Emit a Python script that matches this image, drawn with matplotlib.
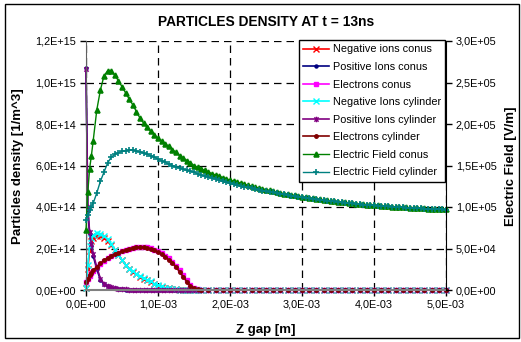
import numpy as np
import matplotlib
matplotlib.use("Agg")
import matplotlib.pyplot as plt
from matplotlib.path import Path
from matplotlib.patches import Rectangle

plt.rcParams['font.family'] = ['Liberation Sans', 'DejaVu Sans']

# gap position [mm] for the particle densities
X_DENS = [0, 0.025, 0.05, 0.075, 0.1,
          0.15, 0.2, 0.25, 0.3, 0.35, 0.4, 0.45, 0.5, 0.55, 0.6,
          0.65, 0.7, 0.75, 0.8, 0.85, 0.9, 0.95, 1.0, 1.05, 1.1,
          1.15, 1.2, 1.25, 1.3, 1.35, 1.4, 1.45, 1.5, 1.55, 1.6,
          1.7, 1.8, 1.9, 2.0, 2.1, 2.2, 2.3, 2.4, 2.5, 2.6,
          2.7, 2.8, 2.9, 3.0, 3.1, 3.2, 3.3, 3.4, 3.5, 3.6,
          3.7, 3.8, 3.9, 4.0, 4.1, 4.2, 4.3, 4.4, 4.5, 4.6,
          4.7, 4.8, 4.9, 5.0]

# gap position [mm] for the electric field
X_FIELD = [0, 0.025, 0.05, 0.075, 0.1,
           0.15, 0.2, 0.25, 0.3, 0.35, 0.4, 0.45, 0.5, 0.55, 0.6,
           0.65, 0.7, 0.75, 0.8, 0.85, 0.9, 0.95, 1.0, 1.05, 1.1,
           1.15, 1.2, 1.25, 1.3, 1.35, 1.4, 1.45, 1.5, 1.55, 1.6,
           1.65, 1.7, 1.75, 1.8, 1.85, 1.9, 1.95, 2.0, 2.05, 2.1,
           2.15, 2.2, 2.25, 2.3, 2.35, 2.4, 2.45, 2.5, 2.55, 2.6,
           2.65, 2.7, 2.75, 2.8, 2.85, 2.9, 2.95, 3.0, 3.05, 3.1,
           3.15, 3.2, 3.25, 3.3, 3.35, 3.4, 3.45, 3.5, 3.55, 3.6,
           3.65, 3.7, 3.75, 3.8, 3.85, 3.9, 3.95, 4.0, 4.05, 4.1,
           4.15, 4.2, 4.25, 4.3, 4.35, 4.4, 4.45, 4.5, 4.55, 4.6,
           4.65, 4.7, 4.75, 4.8, 4.85, 4.9, 4.95, 5.0]

# densities [1e14 1/m^3]
NEG_CONUS = [0.08, 1.0, 1.9, 2.35, 2.5,
             2.6, 2.6, 2.5, 2.38, 2.15, 1.92, 1.68, 1.44, 1.2, 1.02,
             0.88, 0.76, 0.64, 0.54, 0.47, 0.39, 0.29, 0.21, 0.16, 0.11,
             0.075, 0.045, 0.028, 0.018, 0.011, 0.006, 0.003, 0.002, 0.001, 0,
             0, 0, 0, 0, 0, 0, 0, 0, 0, 0,
             0, 0, 0, 0, 0, 0, 0, 0, 0, 0,
             0, 0, 0, 0, 0, 0, 0, 0, 0, 0,
             0, 0, 0, 0]
POS_CONUS = [10.7, 3.8, 2.7, 2.1, 1.65,
             1.0, 0.5, 0.28, 0.17, 0.12, 0.08, 0.05, 0.035, 0.02, 0.012,
             0.008, 0.005, 0.004, 0.002, 0.001, 0, 0, 0, 0, 0,
             0, 0, 0, 0, 0, 0, 0, 0, 0, 0,
             0, 0, 0, 0, 0, 0, 0, 0, 0, 0,
             0, 0, 0, 0, 0, 0, 0, 0, 0, 0,
             0, 0, 0, 0, 0, 0, 0, 0, 0, 0,
             0, 0, 0, 0]
ELEC_CONUS = [0.38, 0.53, 0.68, 0.81, 0.93,
              1.1, 1.26, 1.41, 1.53, 1.64, 1.72, 1.8, 1.87, 1.93, 1.98,
              2.03, 2.06, 2.08, 2.07, 2.05, 2.01, 1.95, 1.87, 1.77, 1.66,
              1.52, 1.37, 1.18, 0.96, 0.72, 0.47, 0.26, 0.11, 0.04, 0.01,
              0, 0, 0, 0, 0, 0, 0, 0, 0, 0,
              0, 0, 0, 0, 0, 0, 0, 0, 0, 0,
              0, 0, 0, 0, 0, 0, 0, 0, 0, 0,
              0, 0, 0, 0]
NEG_CYL = [0.1, 1.2, 2.1, 2.5, 2.65,
           2.73, 2.72, 2.6, 2.45, 2.2, 1.95, 1.7, 1.45, 1.2, 1.02,
           0.9, 0.78, 0.66, 0.56, 0.5, 0.42, 0.3, 0.22, 0.17, 0.12,
           0.08, 0.05, 0.03, 0.02, 0.012, 0.007, 0.004, 0.002, 0.001, 0,
           0, 0, 0, 0, 0, 0, 0, 0, 0, 0,
           0, 0, 0, 0, 0, 0, 0, 0, 0, 0,
           0, 0, 0, 0, 0, 0, 0, 0, 0, 0,
           0, 0, 0, 0]
POS_CYL = [10.65, 4.0, 2.8, 2.2, 1.75,
           1.1, 0.55, 0.3, 0.19, 0.14, 0.09, 0.06, 0.04, 0.025, 0.015,
           0.01, 0.007, 0.005, 0.003, 0.002, 0.001, 0, 0, 0, 0,
           0, 0, 0, 0, 0, 0, 0, 0, 0, 0,
           0, 0, 0, 0, 0, 0, 0, 0, 0, 0,
           0, 0, 0, 0, 0, 0, 0, 0, 0, 0,
           0, 0, 0, 0, 0, 0, 0, 0, 0, 0,
           0, 0, 0, 0]
ELEC_CYL = [0.4, 0.55, 0.7, 0.83, 0.95,
            1.12, 1.28, 1.43, 1.55, 1.65, 1.73, 1.8, 1.87, 1.93, 1.98,
            2.02, 2.05, 2.06, 2.05, 2.02, 1.98, 1.91, 1.82, 1.72, 1.6,
            1.45, 1.3, 1.1, 0.88, 0.64, 0.4, 0.2, 0.08, 0.025, 0.005,
            0, 0, 0, 0, 0, 0, 0, 0, 0, 0,
            0, 0, 0, 0, 0, 0, 0, 0, 0, 0,
            0, 0, 0, 0, 0, 0, 0, 0, 0, 0,
            0, 0, 0, 0]

# electric field [kV/m]
EF_CONUS = [72, 118, 146, 162, 180,
            217, 241, 258, 264, 264, 259, 252, 245, 237.5, 230,
            223, 215, 207, 201, 196, 191, 187, 183, 179, 176,
            173, 169, 166, 162, 159, 156, 153, 150, 148, 146,
            144, 142, 140.2, 138.5, 137, 135.5, 134, 132.5, 131.2, 130,
            128.7, 127.5, 126.2, 125, 124, 123, 122, 121, 120, 119,
            118, 117, 116.2, 115.5, 114.7, 114, 113.2, 112.5, 111.7, 111,
            110.5, 110, 109.2, 108.5, 108, 107.5, 107, 106.5, 106, 105.5,
            105, 104.5, 104, 103.5, 103.2, 103, 102.6, 102.3, 101.9, 101.5,
            101.2, 101, 100.6, 100.3, 100, 99.8, 99.5, 99.2, 98.9, 98.7,
            98.4, 98.2, 98, 97.8, 97.6, 97.4, 97.2, 97]
EF_CYL = [84, 90, 96, 100, 104.5,
          117, 131, 142, 153, 160, 163.5, 165.5, 167, 168, 168.5,
          168.5, 167.5, 166.5, 165, 163.5, 162, 160, 158, 156, 154,
          151.5, 150, 148.5, 147, 145.5, 144, 143, 142, 140, 138.5,
          137.2, 136, 134.7, 133.5, 132.2, 131, 129.7, 128.5, 127.5, 126.5,
          125.5, 124.5, 123.5, 122.5, 121.5, 120.5, 119.7, 119, 118.2, 117.5,
          116.7, 116, 115.2, 114.5, 113.7, 113, 112.3, 111.7, 111.1, 110.5,
          110, 109.5, 108.8, 108.2, 107.7, 107.2, 106.7, 106.2, 105.7, 105.2,
          104.7, 104.3, 103.8, 103.3, 103, 102.7, 102.3, 102, 101.6, 101.3,
          101, 100.7, 100.4, 100.1, 99.8, 99.5, 99.2, 99, 98.7, 98.5,
          98.2, 98, 97.8, 97.6, 97.4, 97.2, 97, 96.8]

X_TICKS = ['0,0E+00', '1,0E-03', '2,0E-03', '3,0E-03', '4,0E-03', '5,0E-03']
Y_TICKS = ['0,0E+00', '2,0E+14', '4,0E+14', '6,0E+14', '8,0E+14', '1,0E+15', '1,2E+15']
Y2_TICKS = ['0,0E+00', '5,0E+04', '1,0E+05', '1,5E+05', '2,0E+05', '2,5E+05', '3,0E+05']

# excel-like asterisk marker (x with a vertical bar)
star = Path([(-1, -1), (1, 1), (-1, 1), (1, -1), (0, -1.3), (0, 1.3)],
            [Path.MOVETO, Path.LINETO, Path.MOVETO, Path.LINETO, Path.MOVETO, Path.LINETO])

W, H = 521, 342
fig = plt.figure(figsize=(W / 100, H / 100), dpi=100)
ax = fig.add_axes([86 / W, 1 - 290 / H, 360 / W, 249 / H])
ax2 = ax.twinx()

xd = np.array(X_DENS) * 1e-3
xf = np.array(X_FIELD) * 1e-3
dens = [
    ('Negative ions conus', NEG_CONUS, '#FF0000', 'x', 4),
    ('Positive Ions conus', POS_CONUS, '#000080', 'o', 2.2),
    ('Electrons conus', ELEC_CONUS, '#FF00FF', 's', 2.5),
    ('Negative Ions cylinder', NEG_CYL, '#00FFFF', 'x', 4.5),
    ('Positive Ions cylinder', POS_CYL, '#800080', star, 4),
    ('Electrons cylinder', ELEC_CYL, '#800000', 'o', 2.5),
]
handles = []
for lab, ys, c, m, ms in dens:
    h, = ax.plot(xd, np.array(ys) * 1e14, color=c, marker=m, ms=ms, lw=1.2,
                 mew=1, label=lab, clip_on=False)
    handles.append(h)

for lab, ys, c, m, ms in [('Electric Field conus', EF_CONUS, '#008000', '^', 3.5),
                          ('Electric Field cylinder', EF_CYL, '#008080', '+', 5)]:
    h, = ax2.plot(xf, np.array(ys) * 1e3, color=c, marker=m, ms=ms, lw=1,
                  mew=1.2, label=lab, clip_on=False)
    handles.append(h)

ax.set_xlim(0, 5e-3)
ax.set_ylim(0, 1.2e15)
ax2.set_ylim(0, 3e5)
ax.set_xticks(np.arange(len(X_TICKS)) * 1e-3)
ax.set_xticklabels(X_TICKS)
ax.set_yticks(np.arange(len(Y_TICKS)) * 2e14)
ax.set_yticklabels(Y_TICKS)
ax2.set_yticks(np.arange(len(Y2_TICKS)) * 5e4)
ax2.set_yticklabels(Y2_TICKS)

ax.grid(True, color='black', ls=(0, (6, 4)), lw=0.9)
ax.set_axisbelow(True)
for a in (ax, ax2):
    a.spines['top'].set_visible(False)
    a.tick_params(labelsize=7.8, length=4, width=1, pad=3)
ax2.spines['left'].set_visible(False)
ax2.spines['bottom'].set_visible(False)
ax.spines['right'].set_visible(False)
ax.spines['left'].set_color('#606060')
ax.spines['bottom'].set_color('#808080')
ax.spines['bottom'].set_linewidth(1.5)
ax2.spines['right'].set_color('black')

fig.text(266 / W, 1 - 22 / H, 'PARTICLES DENSITY AT t = 13ns', ha='center', va='center',
         fontsize=9.9, fontweight='bold')
fig.text(266 / W, 1 - 330 / H, 'Z gap [m]', ha='center', va='center',
         fontsize=9.5, fontweight='bold')
fig.text(18 / W, 1 - 166 / H, 'Particles density [1/m^3]', ha='center', va='center',
         rotation=90, fontsize=9.5, fontweight='bold')
fig.text(511 / W, 1 - 166 / H, 'Electric Field [V/m]', ha='center', va='center',
         rotation=90, fontsize=9.5, fontweight='bold')

leg = fig.legend(handles, [h.get_label() for h in handles], loc='upper right',
                 bbox_to_anchor=(445 / W, 1 - 40 / H), bbox_transform=fig.transFigure,
                 fancybox=False, edgecolor='black', framealpha=1, fontsize=7.8,
                 handlelength=2.4, handletextpad=0.3, labelspacing=0.7,
                 borderpad=0.4, borderaxespad=0)
leg.get_frame().set_linewidth(1)

fig.patches.append(Rectangle((5 / W, 4 / H), 514 / W, 334 / H, transform=fig.transFigure,
                             fill=False, ec='black', lw=1))

fig.savefig('out.png', dpi=100)
